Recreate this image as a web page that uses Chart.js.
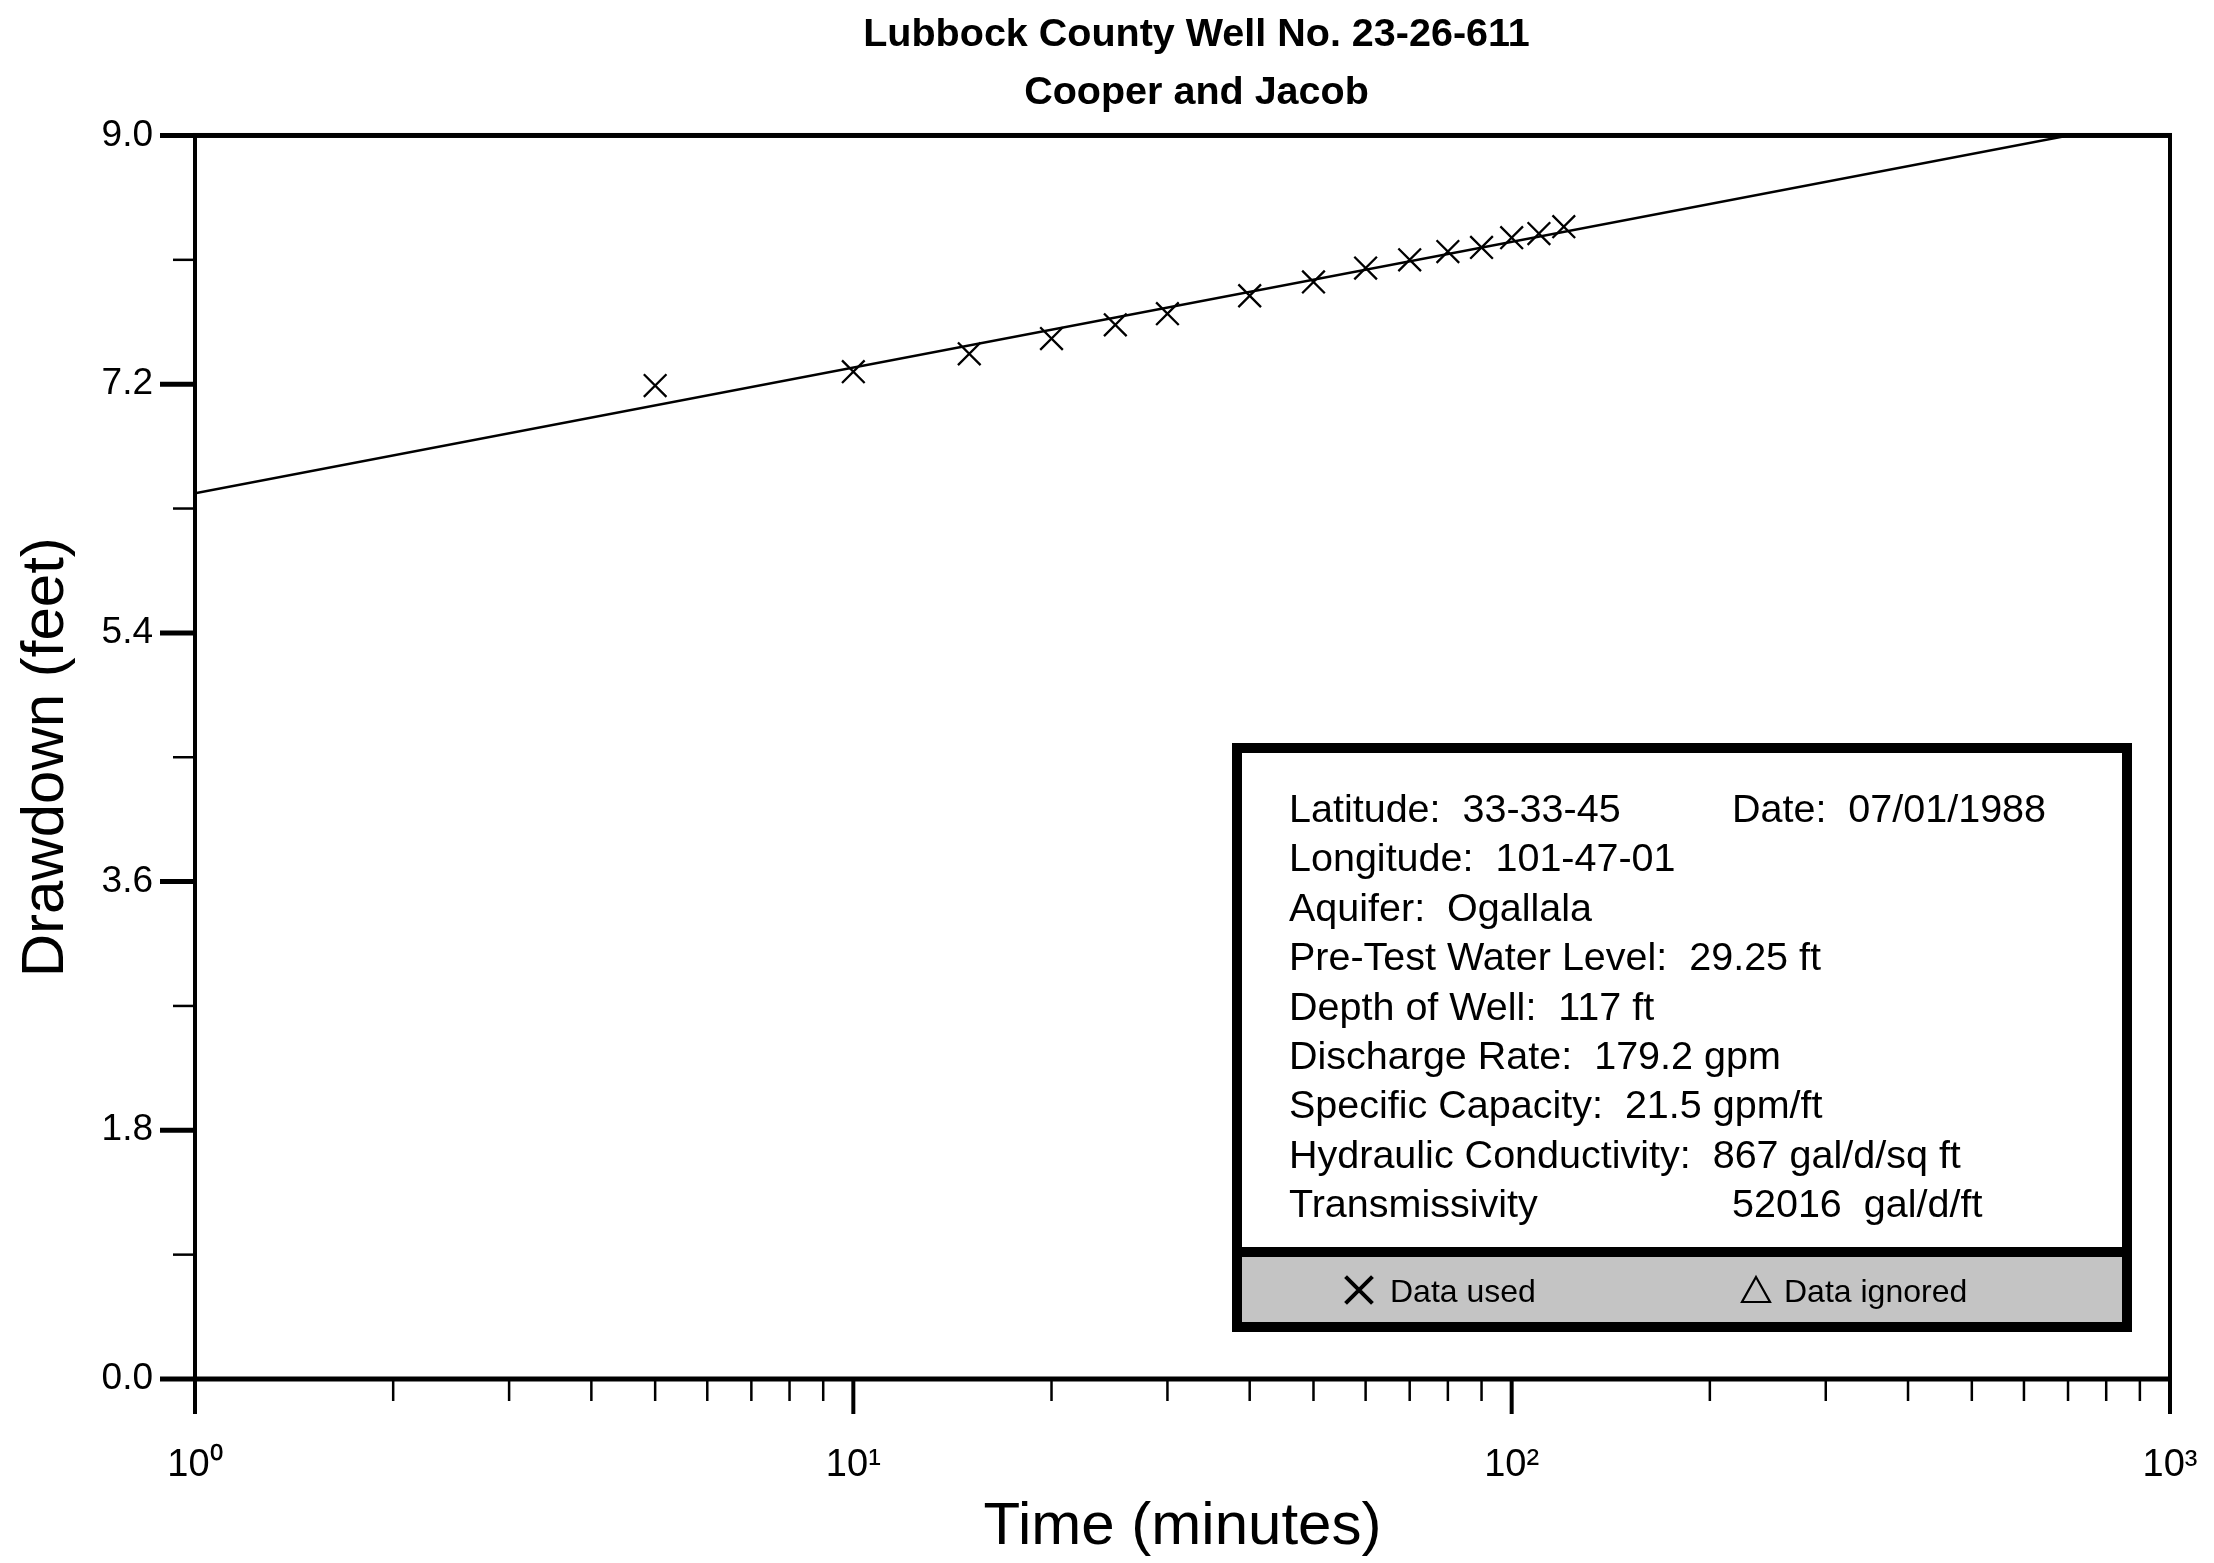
<!DOCTYPE html>
<html>
<head>
<meta charset="utf-8">
<script src="https://cdn.jsdelivr.net/npm/chart.js@4.4.1/dist/chart.umd.min.js"></script>
<style>
  html, body { margin: 0; padding: 0; background: #ffffff; }
  #wrap { width: 2214px; height: 1563px; }
</style>
</head>
<body>
<div id="wrap"><canvas id="c" width="2214" height="1563"></canvas></div>
<script>
// ---------------- data ----------------
const titleLines = ['Lubbock County Well No. 23-26-611', 'Cooper and Jacob'];
const xAxisTitle = 'Time (minutes)';
const yAxisTitle = 'Drawdown (feet)';

const timeMinutes  = [5, 10, 15, 20, 25, 30, 40, 50, 60, 70, 80, 90, 100, 110, 120];
const drawdownFeet = [7.19, 7.29, 7.42, 7.53, 7.63, 7.71, 7.84, 7.94, 8.04, 8.10, 8.16, 8.19, 8.26, 8.29, 8.34];

const fitTime     = [1, 1000];
const fitDrawdown = [6.41, 9.14];

const xTickValues = [1,2,3,4,5,6,7,8,9,10,20,30,40,50,60,70,80,90,100,200,300,400,500,600,700,800,900,1000];
const xTickLabels = ['10\u2070','','','','','','','','','10\u00B9','','','','','','','','','10\u00B2','','','','','','','','','10\u00B3'];

const yTickValues = [0, 0.9, 1.8, 2.7, 3.6, 4.5, 5.4, 6.3, 7.2, 8.1, 9.0];
const yTickLabels = ['0.0','','1.8','','3.6','','5.4','','7.2','','9.0'];

const infoLeft = [
  'Latitude:  33-33-45',
  'Longitude:  101-47-01',
  'Aquifer:  Ogallala',
  'Pre-Test Water Level:  29.25 ft',
  'Depth of Well:  117 ft',
  'Discharge Rate:  179.2 gpm',
  'Specific Capacity:  21.5 gpm/ft',
  'Hydraulic Conductivity:  867 gal/d/sq ft',
  'Transmissivity'
];
const infoRight = ['Date:  07/01/1988', '', '', '', '', '', '', '', '52016  gal/d/ft'];
const legendLabels = ['Data used', 'Data ignored'];

// ---------------- drawing ----------------
const FONT = "'Liberation Sans', Arial, Helvetica, sans-serif";

const decorPlugin = {
  id: 'decor',
  afterLayout(chart) {
    // the printed title sits slightly right of the plot centre
    if (chart.titleBlock) {
      chart.titleBlock.left += 14;
      chart.titleBlock.right += 14;
    }
  },
  afterDraw(chart) {
    const { ctx, chartArea: a, scales: { x, y } } = chart;
    ctx.save();
    ctx.fillStyle = '#000';
    ctx.strokeStyle = '#000';
    ctx.lineCap = 'butt';

    // tick marks (outward)
    y.ticks.forEach((t, i) => {
      const py = y.getPixelForValue(t.value);
      const major = yTickLabels[i] !== '';
      ctx.lineWidth = major ? 5 : 2.5;
      ctx.beginPath();
      ctx.moveTo(a.left - (major ? 35 : 22), py);
      ctx.lineTo(a.left, py);
      ctx.stroke();
    });
    x.ticks.forEach((t, i) => {
      const px = x.getPixelForValue(t.value);
      const major = xTickLabels[i] !== '';
      ctx.lineWidth = major ? 4 : 2.5;
      ctx.beginPath();
      ctx.moveTo(px, a.bottom);
      ctx.lineTo(px, a.bottom + (major ? 35 : 22));
      ctx.stroke();
    });

    // frame
    const w = a.right - a.left;
    ctx.fillRect(a.left - 2, a.top - 2.5, w + 4, 5);
    ctx.fillRect(a.left - 2, a.bottom - 2.5, w + 4, 5);
    ctx.fillRect(a.left - 2, a.top, 4, a.bottom - a.top);
    ctx.fillRect(a.right - 2, a.top, 4, a.bottom - a.top);

    // info box
    const bx0 = 1232, bx1 = 2132, by0 = 743, by1 = 1332;
    const bw = 10;
    const divTop = 1247, divBot = 1257;
    ctx.fillStyle = '#000';
    ctx.fillRect(bx0, by0, bx1 - bx0, by1 - by0);
    ctx.fillStyle = '#ffffff';
    ctx.fillRect(bx0 + bw, by0 + bw, bx1 - bx0 - 2 * bw, divTop - by0 - bw);
    ctx.fillStyle = '#c4c4c4';
    ctx.fillRect(bx0 + bw, divBot, bx1 - bx0 - 2 * bw, by1 - bw - divBot);

    ctx.fillStyle = '#000';
    ctx.font = '39.5px ' + FONT;
    ctx.textAlign = 'left';
    ctx.textBaseline = 'alphabetic';
    const base0 = 822, step = 49.4;
    infoLeft.forEach((s, i) => ctx.fillText(s, 1289, base0 + i * step));
    infoRight.forEach((s, i) => { if (s) ctx.fillText(s, 1732, base0 + i * step); });

    // legend band
    const ly = 1290;
    Chart.helpers.drawPoint(ctx, { pointStyle: 'crossRot', radius: 19, borderWidth: 2.2 }, 1359, ly);
    ctx.lineWidth = 2.2;
    ctx.strokeStyle = '#000';
    ctx.beginPath();
    ctx.moveTo(1756, ly - 13);
    ctx.lineTo(1770, ly + 12);
    ctx.lineTo(1742, ly + 12);
    ctx.closePath();
    ctx.stroke();
    ctx.font = '32px ' + FONT;
    ctx.textBaseline = 'alphabetic';
    ctx.fillStyle = '#000';
    ctx.fillText(legendLabels[0], 1390, 1302);
    ctx.fillText(legendLabels[1], 1784, 1302);

    ctx.restore();
  }
};

const ctx = document.getElementById('c').getContext('2d');
new Chart(ctx, {
  type: 'scatter',
  data: {
    datasets: [
      {
        label: 'Data used',
        data: timeMinutes.map((t, i) => ({ x: t, y: drawdownFeet[i] })),
        pointStyle: 'crossRot',
        pointRadius: 16,
        pointHoverRadius: 16,
        borderColor: '#000',
        backgroundColor: '#000',
        pointBorderWidth: 2.3,
        borderWidth: 2.3,
        showLine: false
      },
      {
        label: 'Cooper-Jacob fit',
        data: fitTime.map((t, i) => ({ x: t, y: fitDrawdown[i] })),
        showLine: true,
        pointRadius: 0,
        borderColor: '#000',
        borderWidth: 2.5,
        fill: false
      }
    ]
  },
  options: {
    responsive: false,
    animation: false,
    devicePixelRatio: 1,
    layout: { padding: { top: 0, right: 44, bottom: 0, left: 0 } },
    plugins: {
      legend: { display: false },
      tooltip: { enabled: false },
      title: {
        display: true,
        fullSize: false,
        text: titleLines,
        color: '#000',
        font: { family: FONT, size: 39.5, weight: 'bold', lineHeight: 1.468 },
        padding: { top: 6.5, bottom: 13 }
      }
    },
    scales: {
      x: {
        type: 'logarithmic',
        min: 1,
        max: 1000,
        afterBuildTicks: (s) => { s.ticks = xTickValues.map(v => ({ value: v })); },
        afterFit: (s) => { s.height = 184; },
        border: { display: false },
        grid: { display: true, drawOnChartArea: false, drawTicks: true, tickLength: 64, tickColor: 'rgba(0,0,0,0)' },
        ticks: {
          autoSkip: false,
          maxRotation: 0,
          minRotation: 0,
          padding: 0,
          color: '#000',
          font: { family: FONT, size: 38 },
          callback: (v, i) => xTickLabels[i]
        },
        title: {
          display: true,
          text: xAxisTitle,
          color: '#000',
          font: { family: FONT, size: 60 },
          padding: { top: 0, bottom: 0 }
        }
      },
      y: {
        type: 'linear',
        min: 0,
        max: 9,
        afterBuildTicks: (s) => { s.ticks = yTickValues.map(v => ({ value: v })); },
        afterFit: (s) => { s.width = 195; },
        border: { display: false },
        grid: { display: true, drawOnChartArea: false, drawTicks: true, tickLength: 42, tickColor: 'rgba(0,0,0,0)' },
        ticks: {
          autoSkip: false,
          padding: 0,
          color: '#000',
          font: { family: FONT, size: 37 },
          callback: (v, i) => yTickLabels[i]
        },
        title: {
          display: true,
          text: yAxisTitle,
          color: '#000',
          font: { family: FONT, size: 60 },
          padding: { top: 10, bottom: 0 }
        }
      }
    }
  },
  plugins: [decorPlugin]
});
</script>
</body>
</html>
